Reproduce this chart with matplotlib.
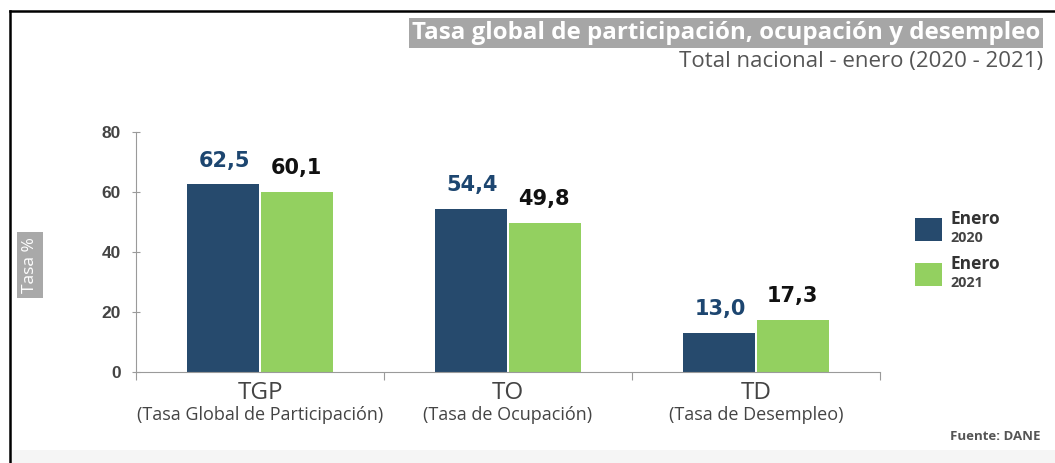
import matplotlib.pyplot as plt
from matplotlib.patches import Rectangle
from matplotlib.lines import Line2D
import numpy as np

categorias = ['TGP', 'TO', 'TD']
nombres = ['(Tasa Global de Participación)', '(Tasa de Ocupación)', '(Tasa de Desempleo)']
enero_2020 = [62.5, 54.4, 13.0]
enero_2021 = [60.1, 49.8, 17.3]
etiquetas_2020 = ['62,5', '54,4', '13,0']
etiquetas_2021 = ['60,1', '49,8', '17,3']
series = ['2020', '2021']

azul = '#264a6d'
verde = '#93d060'

fig = plt.figure(figsize=(10.55, 4.63), dpi=100)
ax = fig.add_axes([136/1055, 1 - 372/463, (880 - 136)/1055, 240/463])

x = np.arange(len(categorias))
w = 0.29
ax.bar(x - w/2 - 0.006, enero_2020, width=w, color=azul)
ax.bar(x + w/2 + 0.006, enero_2021, width=w, color=verde)

for i in range(len(x)):
    ax.annotate(etiquetas_2020[i], (x[i] - w/2, enero_2020[i]), xytext=(0, 10),
                textcoords='offset points', ha='center', va='bottom',
                fontsize=15, fontweight='bold', color='#1d4670', family='DejaVu Sans')
    ax.annotate(etiquetas_2021[i], (x[i] + w/2, enero_2021[i]), xytext=(0, 10),
                textcoords='offset points', ha='center', va='bottom',
                fontsize=15, fontweight='bold', color='#111111', family='DejaVu Sans')

ax.set_xlim(-0.5, 2.5)
ax.set_ylim(0, 80)
ax.set_yticks([0, 20, 40, 60, 80])
ax.set_xticks([-0.5, 0.5, 1.5, 2.5])
ax.set_xticklabels([])
for s in ['top', 'right']:
    ax.spines[s].set_visible(False)
ax.spines['left'].set_color('#9a9a9a')
ax.spines['bottom'].set_color('#9a9a9a')
ax.tick_params(axis='y', direction='inout', length=6, color='#9a9a9a', pad=8,
               labelsize=12.5, labelcolor='#444444')
for t in ax.get_yticklabels():
    t.set_fontweight('bold')
    t.set_family('Liberation Sans')
ax.tick_params(axis='x', direction='out', length=6, color='#9a9a9a')

for i in range(len(x)):
    ax.text(x[i], -7, categorias[i], ha='center', va='center', fontsize=17.5,
            color='#444444', family='Open Sans')
    ax.text(x[i], -14.3, nombres[i], ha='center', va='center', fontsize=13,
            color='#444444', family='Open Sans')

# titulo
fig.text(1040/1055, 1 - 33/463, 'Tasa global de participación, ocupación y desempleo',
         ha='right', va='center', fontsize=17.4, fontweight='bold', color='white',
         family='Open Sans',
         bbox=dict(boxstyle='square,pad=0.12', fc='#a6a6a6', ec='none'))
fig.text(1043/1055, 1 - 62/463, 'Total nacional - enero (2020 - 2021)',
         ha='right', va='center', fontsize=16, color='#555555', family='Open Sans')

fig.text(30/1055, 1 - 265/463, 'Tasa %', rotation=90, ha='center', va='center',
         fontsize=12.5, color='white', family='Open Sans',
         bbox=dict(boxstyle='square,pad=0.3', fc='#a9a9a9', ec='none'))

# leyenda
colores = [azul, verde]
y_cuadro = [218, 263]
for k in range(2):
    fig.add_artist(Rectangle((915/1055, 1 - (y_cuadro[k] + 23)/463), 27/1055, 23/463,
                             transform=fig.transFigure, fc=colores[k], ec='none'))
    fig.text(950/1055, 1 - (y_cuadro[k] + 1)/463, 'Enero', ha='left', va='center',
             fontsize=12.5, fontweight='bold', color='#333333', family='Open Sans')
    fig.text(950/1055, 1 - (y_cuadro[k] + 20)/463, series[k], ha='left', va='center',
             fontsize=10.3, fontweight='bold', color='#444444', family='Open Sans')

fig.text(1040/1055, 1 - 437/463, 'Fuente: DANE', ha='right', va='center',
         fontsize=9.5, fontweight='bold', color='#555555', family='Open Sans')

# marco
fig.add_artist(Rectangle((10/1055, 0), 1 - 10/1055, 13/463, transform=fig.transFigure,
                         fc='#f5f5f5', ec='none', zorder=-1))
fig.add_artist(Line2D([10/1055, 1], [1 - 11/463, 1 - 11/463], transform=fig.transFigure,
                      color='black', lw=1.8))
fig.add_artist(Line2D([10/1055, 10/1055], [0, 1 - 11/463], transform=fig.transFigure,
                      color='black', lw=1.8))

fig.savefig('out.png', dpi=100)
